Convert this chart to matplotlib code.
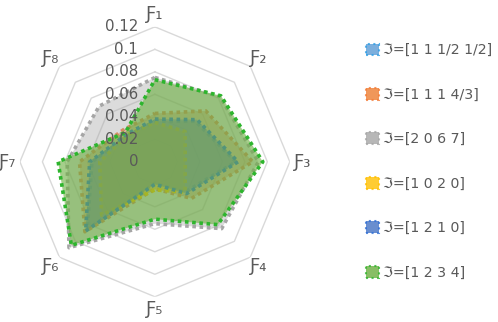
import numpy as np
import matplotlib.pyplot as plt
from matplotlib.patches import Patch

categories = ['Ƒ₁', 'Ƒ₂', 'Ƒ₃', 'Ƒ₄', 'Ƒ₅', 'Ƒ₆', 'Ƒ₇', 'Ƒ₈']
labels = ['ℑ=[1 1 1/2 1/2]', 'ℑ=[1 1 1 4/3]', 'ℑ=[2 0 6 7]',
          'ℑ=[1 0 2 0]', 'ℑ=[1 2 1 0]', 'ℑ=[1 2 3 4]']

s1 = [0.036, 0.051, 0.072, 0.038, 0.019, 0.085, 0.056, 0.033]
s2 = [0.043, 0.064, 0.087, 0.046, 0.024, 0.088, 0.067, 0.040]
s3 = [0.075, 0.082, 0.092, 0.084, 0.055, 0.108, 0.078, 0.070]
s4 = [0.035, 0.038, 0.027, 0.038, 0.025, 0.067, 0.049, 0.034]
s5 = [0.038, 0.053, 0.074, 0.040, 0.020, 0.087, 0.058, 0.035]
s6 = [0.073, 0.083, 0.096, 0.079, 0.051, 0.105, 0.086, 0.037]
series = [s1, s2, s3, s4, s5, s6]

line_colors = ['#2E9FE6', '#F47B37', '#A6A6A6', '#FFC000', '#2F6FD6', '#2DB52D']
fill_colors = ['#5B9BD5', '#ED7D31', '#A5A5A5', '#FFC000', '#4472C4', '#6AAE3E']
fill_alpha = [0.45, 0.45, 0.4, 0.45, 0.45, 0.6]
ticks = [0, 0.02, 0.04, 0.06, 0.08, 0.1, 0.12]
txt = '#595959'

fig = plt.figure(figsize=(4.98, 3.22), dpi=100)
ax = fig.add_axes([0.040, 0.078, 0.542, 0.839], projection='polar')
ax.set_theta_offset(np.pi / 2)
ax.set_theta_direction(-1)

theta = np.linspace(0, 2 * np.pi, len(categories), endpoint=False)
closed = np.append(theta, theta[0])

# octagon grid
for t in ticks[1:]:
    ax.plot(closed, [t] * len(closed), color='#D9D9D9', lw=1, zorder=1)

for vals, lc, fc, a in zip(series, line_colors, fill_colors, fill_alpha):
    v = vals + vals[:1]
    ax.fill(closed, v, color=fc, alpha=a, lw=0, zorder=2)
    ax.plot(closed, v, color=lc, lw=2.6, linestyle=(0, (1, 1)),
            dash_capstyle='butt', zorder=2)

ax.set_ylim(0, 0.12)
ax.set_xticks([])
ax.set_yticks([])
ax.grid(False)
ax.spines['polar'].set_visible(False)
ax.set_facecolor('none')

for t in ticks:
    ax.annotate(('%g' % t), xy=(0, t), xytext=(-12, 0), textcoords='offset points',
                ha='right', va='center', fontsize=10.8, color=txt, zorder=5)

for th, c in zip(theta, categories):
    ax.text(th, 0.131, c, ha='center', va='center', fontsize=13, color=txt)

handles = [Patch(facecolor=fc, edgecolor=lc, linestyle=':', linewidth=1.5, alpha=0.8)
           for lc, fc in zip(line_colors, fill_colors)]
leg = fig.legend(handles, labels, loc='upper left', bbox_to_anchor=(0.71, 0.905),
                 frameon=False, fontsize=10.2, labelspacing=2.15,
                 handlelength=0.9, handleheight=0.9, handletextpad=0.3)
for t in leg.get_texts():
    t.set_color(txt)

fig.savefig('out.png', dpi=100)
